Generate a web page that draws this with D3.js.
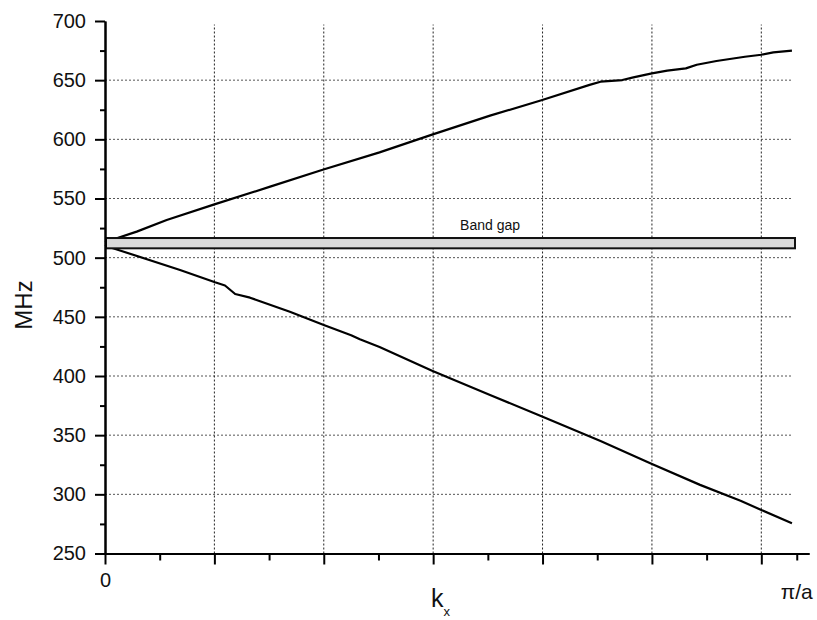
<!DOCTYPE html>
<html>
<head>
<meta charset="utf-8">
<script src="https://cdn.jsdelivr.net/npm/d3@7"></script>
<style>
  html, body { margin: 0; padding: 0; background: #fff; }
  svg { display: block; }
  text { font-family: Arial, "Liberation Sans", sans-serif; fill: #111; }
</style>
</head>
<body>
<svg id="chart" width="817" height="620"></svg>
<script>
// ---- data ----
const upperK = [0, 0.046, 0.29, 0.564, 1.0, 1.51, 1.99, 2.51, 2.99, 3.52, 3.99, 4.43, 4.53, 4.73, 4.83, 5.0, 5.14, 5.31, 5.41, 5.59, 5.85, 6.0, 6.11, 6.28];
const upperF = [513, 514.5, 522, 531.8, 545, 560, 574.3, 589, 604, 620, 633, 646, 648.7, 650.1, 652.4, 655.8, 658, 660, 663, 666.2, 669.8, 671.5, 673.5, 674.9];
const lowerK = [0, 0.073, 0.686, 1.006, 1.097, 1.19, 1.326, 1.69, 2.0, 2.25, 2.33, 2.51, 2.99, 3.52, 3.99, 4.53, 4.99, 5.44, 5.81, 6.0, 6.28];
const lowerF = [511, 508, 489.6, 479.2, 476.5, 469.3, 466.2, 454.3, 443.1, 434.5, 431, 424.5, 404.4, 384, 366, 345, 326, 308, 294.5, 286.8, 275.6];
const bandGap = [507.9, 516.6];          // MHz
const bandGapLabel = "Band gap";
const yMajorTicks = [250, 300, 350, 400, 450, 500, 550, 600, 650, 700];
const yMinorTicks = [275, 325, 375, 425, 475, 525, 575, 625, 675];
const yGridTicks = [300, 350, 400, 450, 500, 550, 600, 650];
const xMajorTicks = [0, 1, 2, 3, 4, 5, 6];
const xMinorTicks = [0.5, 1.5, 2.5, 3.5, 4.5, 5.5];
const xGridTicks = [1, 2, 3, 4, 5, 6];
const xEndTick = 6.324;                   // position of the pi/a tick
const xEndLabel = "π/a";
const xZeroLabel = "0";
const yTitle = "MHz";

// ---- scales ----
const svg = d3.select("#chart");
const x = d3.scaleLinear().domain([0, 6.436]).range([105, 809]);
const y = d3.scaleLinear().domain([250, 700]).range([553.5, 21]);
const kMax = d3.max(upperK);

// ---- grid ----
const grid = svg.append("g");
grid.selectAll("line.h").data(yGridTicks).join("line")
  .attr("x1", x(0)).attr("x2", x(kMax))
  .attr("y1", d => y(d)).attr("y2", d => y(d))
  .attr("stroke", "#555").attr("stroke-width", 1)
  .attr("stroke-dasharray", "2,2");
grid.selectAll("line.v").data(xGridTicks).join("line")
  .attr("x1", d => x(d)).attr("x2", d => x(d))
  .attr("y1", y(250)).attr("y2", y(697))
  .attr("stroke", "#222").attr("stroke-width", 1)
  .attr("stroke-dasharray", "2,2");

// ---- curves ----
const line = d3.line().x(d => x(d[0])).y(d => y(d[1]));
svg.append("path").datum(d3.zip(upperK, upperF))
  .attr("d", line).attr("fill", "none").attr("stroke", "#000").attr("stroke-width", 2.2)
  .attr("stroke-linejoin", "round");
svg.append("path").datum(d3.zip(lowerK, lowerF))
  .attr("d", line).attr("fill", "none").attr("stroke", "#000").attr("stroke-width", 2.2)
  .attr("stroke-linejoin", "round");

// ---- band gap ----
svg.append("rect")
  .attr("x", x(0) + 1).attr("y", y(bandGap[1]))
  .attr("width", x(6.308) - x(0) - 1).attr("height", y(bandGap[0]) - y(bandGap[1]))
  .attr("fill", "#d9d9d9").attr("stroke", "#111").attr("stroke-width", 2);
svg.append("text")
  .attr("x", x(3.52)).attr("y", 230)
  .attr("text-anchor", "middle").attr("font-size", 14)
  .text(bandGapLabel);

// ---- axes ----
function styleAxis(g) {
  g.selectAll(".domain").attr("stroke", "#000").attr("stroke-width", 2);
  g.selectAll(".tick line").attr("stroke", "#000").attr("stroke-width", 2);
}
const yAxisMinor = svg.append("g").attr("transform", `translate(${x(0)},0)`)
  .call(d3.axisLeft(y).tickValues(yMinorTicks).tickSize(5).tickSizeOuter(0).tickFormat(""));
styleAxis(yAxisMinor);
const yAxis = svg.append("g").attr("transform", `translate(${x(0)},0)`)
  .call(d3.axisLeft(y).tickValues(yMajorTicks).tickSize(10).tickSizeOuter(0).tickPadding(9));
styleAxis(yAxis);
yAxis.selectAll("text").attr("font-size", 20).attr("font-family", "Arial, 'Liberation Sans', sans-serif").attr("fill", "#111");

const xAxisMinor = svg.append("g").attr("transform", `translate(0,${y(250)})`)
  .call(d3.axisBottom(x).tickValues(xMinorTicks.concat([xEndTick])).tickSize(7).tickSizeOuter(0).tickFormat(""));
styleAxis(xAxisMinor);
const xAxis = svg.append("g").attr("transform", `translate(0,${y(250)})`)
  .call(d3.axisBottom(x).tickValues(xMajorTicks).tickSize(11).tickSizeOuter(0).tickPadding(8.5)
    .tickFormat(d => d === 0 ? xZeroLabel : ""));
styleAxis(xAxis);
xAxis.selectAll("text").attr("font-size", 20).attr("font-family", "Arial, 'Liberation Sans', sans-serif").attr("fill", "#111");

svg.append("text")
  .attr("x", x(xEndTick)).attr("y", 599)
  .attr("text-anchor", "middle").attr("font-size", 21)
  .text(xEndLabel);

// ---- titles ----
const kx = svg.append("text").attr("x", 431).attr("y", 607).attr("font-size", 25);
kx.append("tspan").text("k");
kx.append("tspan").attr("font-size", 13).attr("dy", 9).text("x");

svg.append("text")
  .attr("transform", `translate(32,305) rotate(-90)`)
  .attr("text-anchor", "middle").attr("font-size", 24)
  .text(yTitle);
</script>
</body>
</html>
